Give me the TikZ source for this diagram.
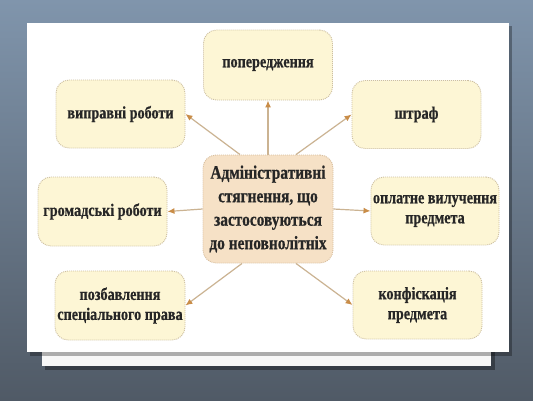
\documentclass[tikz,border=0pt]{standalone}
\usepackage{fontspec}
\setmainfont{Liberation Serif}[FakeStretch=0.81, BoldFeatures={FakeBold=0.6}]
\usetikzlibrary{arrows.meta,shadows,shapes.misc}
\definecolor{bgtop}{HTML}{8095AC}
\definecolor{bgbot}{HTML}{505A66}
\definecolor{boxfill}{HTML}{FDF6D5}
\definecolor{boxline}{HTML}{CDBFA0}
\definecolor{cfill}{HTML}{F6E1C6}
\definecolor{cline}{HTML}{D8BE9E}
\definecolor{arrline}{HTML}{CBB392}
\definecolor{arrhead}{HTML}{C98D48}
\definecolor{txt}{HTML}{262626}
\tikzset{
  leaf/.style={draw=boxline, fill=boxfill, line width=0.9pt, dash pattern=on 1pt off 1pt,
    rounded corners=13pt, minimum width=129pt, minimum height=68pt, align=center,
    text=txt, font=\fontsize{17.5}{20}\selectfont\bfseries, inner sep=2pt},
  hub/.style={leaf, draw=cline, fill=cfill, minimum width=130pt, minimum height=108pt,
    font=\fontsize{19}{23.5}\selectfont\bfseries},
  link/.style={draw=arrline, line width=1.2pt, -{Latex[length=7pt,width=6pt,color=arrhead]}}
}
\begin{document}
\begin{tikzpicture}[x=1pt,y=-1pt]
\useasboundingbox (0,0) rectangle (533,400);
\shade[top color=bgtop, bottom color=bgbot] (0,0) rectangle (533,400);
% paper sheets
\fill[black, opacity=0.35] (45,345) rectangle (495,370);
\fill[black!3] (42,340) rectangle (491,366);
\fill[black, opacity=0.3] (30,26) rectangle (512,356);
\fill[white] (27,23) rectangle (509,352);
% nodes
\node[hub] (c) at (268,209) {Адміністративні\\стягнення, що\\застосовуються\\до неповнолітніх};
\node[leaf, minimum height=70pt] (pop) at (268,65) {попередження};
\node[leaf] (vyp) at (120.5,114) {виправні роботи};
\node[leaf] (shtr) at (416.5,114.5) {штраф};
\node[leaf, minimum height=69pt] (hrom) at (102.5,211.5) {громадські роботи};
\node[leaf, minimum width=128pt] (opl) at (435,211) {оплатне вилучення\\предмета};
\node[leaf, minimum width=130pt, minimum height=69pt] (pozb) at (120,305.5) {позбавлення\\спеціального права};
\node[leaf] (konf) at (417.5,305) {конфіскація\\предмета};
% connectors
\draw[link] (c.north) -- (pop.south);
\draw[link] ([xshift=-28pt]c.north) -- (vyp.east);
\draw[link] ([xshift=28pt]c.north) -- (shtr.west);
\draw[link] (c.west) -- (hrom.east);
\draw[link] (c.east) -- (opl.west);
\draw[link] ([xshift=-26pt]c.south) -- (pozb.east);
\draw[link] ([xshift=28pt]c.south) -- (konf.west);
\end{tikzpicture}
\end{document}
